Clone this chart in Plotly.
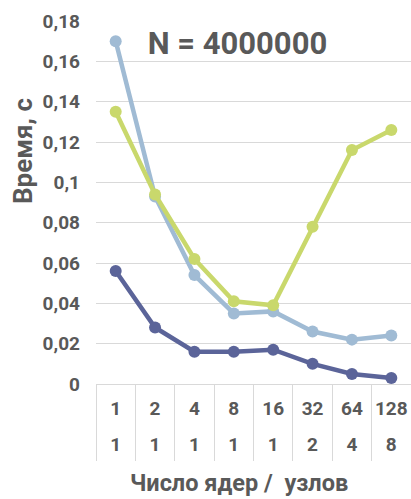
import plotly.graph_objects as go
import numpy as np

cores = ["1", "2", "4", "8", "16", "32", "64", "128"]
nodes = ["1", "1", "1", "1", "1", "2", "4", "8"]
series_light = [0.170, 0.093, 0.054, 0.035, 0.036, 0.026, 0.022, 0.024]
series_green = [0.135, 0.094, 0.062, 0.041, 0.039, 0.078, 0.116, 0.126]
series_navy = [0.056, 0.028, 0.016, 0.016, 0.017, 0.010, 0.005, 0.003]
ytick_vals = [0, 0.02, 0.04, 0.06, 0.08, 0.10, 0.12, 0.14, 0.16, 0.18]
ytick_text = ["0", "0,02", "0,04", "0,06", "0,08", "0,1", "0,12", "0,14", "0,16", "0,18"]

idx = list(range(len(cores)))
bounds = list(np.arange(len(cores) + 1) - 0.5)
xr = [-0.5, len(cores) - 0.5]

TXT = "#595959"
GRID = "#D9D9D9"
FONT = "Roboto"

def b(lst):
    return ["<b>%s</b>" % s for s in lst]

fig = go.Figure()
for vals, col in [(series_navy, "#5B6499"), (series_light, "#A0BBD4"), (series_green, "#C9D86C")]:
    fig.add_trace(go.Scatter(x=idx, y=vals, mode="lines+markers",
                             line=dict(color=col, width=4.5),
                             marker=dict(color=col, size=12),
                             showlegend=False, hoverinfo="skip"))

fig.update_layout(
    width=411, height=499,
    margin=dict(l=96, r=0, t=21, b=115),
    paper_bgcolor="white", plot_bgcolor="white",
    font=dict(family=FONT, color=TXT),
    title=dict(text="<b>N = 4000000</b>", font=dict(size=31, color=TXT, family=FONT),
               x=0.449, xref="paper", xanchor="center",
               y=1 - 43 / 499, yref="container", yanchor="middle", automargin=False),
    xaxis=dict(range=xr, tickmode="array", tickvals=idx, ticktext=b(cores), automargin=False,
               showgrid=False, zeroline=False, showline=True, linecolor=GRID, linewidth=1,
               ticks="", ticklabelstandoff=7,
               tickfont=dict(size=19, color=TXT, family=FONT)),
    xaxis2=dict(range=xr, overlaying="x", anchor="y", side="bottom", automargin=False,
                tickmode="array", tickvals=idx, ticktext=b(nodes),
                showgrid=False, zeroline=False, showline=False, ticks="",
                ticklabelstandoff=47,
                tickfont=dict(size=19, color=TXT, family=FONT)),
    xaxis3=dict(range=xr, overlaying="x", anchor="y", side="bottom", automargin=False,
                tickmode="array", tickvals=bounds, showticklabels=False,
                showgrid=False, zeroline=False, showline=False,
                ticks="outside", ticklen=76, tickcolor=GRID, tickwidth=1),
    yaxis=dict(range=[0, 0.18], tickmode="array", tickvals=ytick_vals, ticktext=b(ytick_text),
               automargin=False,
               showgrid=True, gridcolor=GRID, gridwidth=1, zeroline=False, showline=False,
               ticks="", ticklabelstandoff=15,
               tickfont=dict(size=19, color=TXT, family=FONT)),
    annotations=[
        dict(text="<b>Число ядер /  узлов</b>", xref="paper", yref="paper",
             x=(239 - 96) / 315, y=-(483 - 384) / 363, xanchor="center", yanchor="middle",
             showarrow=False, font=dict(size=23.5, color=TXT, family=FONT)),
        dict(text="<b>Время, с</b>", xref="paper", yref="paper", textangle=-90,
             x=(23 - 96) / 315, y=(384 - 151) / 363, xanchor="center", yanchor="middle",
             showarrow=False, font=dict(size=26, color=TXT, family=FONT)),
    ],
)
fig.add_trace(go.Scatter(x=idx, y=series_navy, xaxis="x2", mode="markers",
                         marker=dict(opacity=0), showlegend=False, hoverinfo="skip"))
fig.add_trace(go.Scatter(x=idx, y=series_navy, xaxis="x3", mode="markers",
                         marker=dict(opacity=0), showlegend=False, hoverinfo="skip"))

fig.write_html("out.html", config={"displayModeBar": False},
               post_script="document.body.style.margin='0px';")
